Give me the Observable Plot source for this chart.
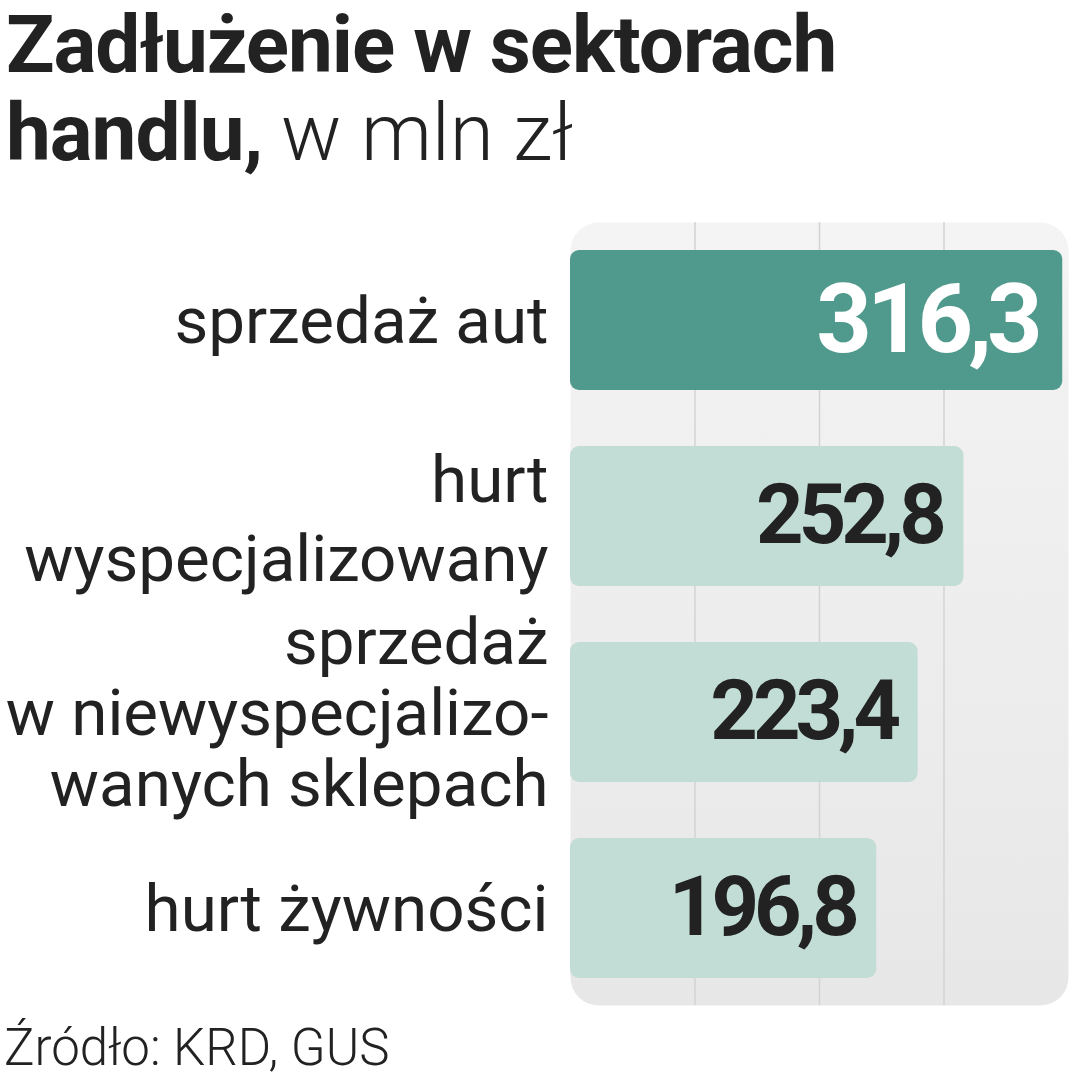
<!DOCTYPE html>
<html><head><meta charset="utf-8">
<script src="https://cdn.jsdelivr.net/npm/d3@7"></script>
<script src="https://cdn.jsdelivr.net/npm/@observablehq/plot@0.6"></script>
<style>
body{margin:0;background:#fff;width:1069px;height:1080px;position:relative;overflow:hidden;font-family:Roboto,"Noto Sans",sans-serif;color:#222}
#title{position:absolute;left:6px;top:1px;font-size:80px;line-height:88px;font-weight:700;letter-spacing:-1px;white-space:nowrap}
#title .light{font-weight:300;letter-spacing:0}
#chart{position:absolute;left:0;top:200px}
#caption{position:absolute;left:4px;top:1018px;font-size:51px;line-height:1.171;font-weight:300;white-space:nowrap}
</style></head><body>
<div id="title">Zadłużenie w sektorach<br>handlu, <span class="light">w mln zł</span></div>
<div id="chart"></div>
<div id="caption">Źródło: KRD, GUS</div>
<script>
const categories = ["sprzedaż aut", "hurt\nwyspecjalizowany", "sprzedaż\nw niewyspecjalizo-\nwanych sklepach", "hurt żywności"];
const values = [316.3, 252.8, 223.4, 196.8];
const gridTicks = [80, 160, 240];
const xDomain = [0, 320];

const data = categories.map((c, i) => ({category: c, value: values[i], idx: i}));
const fmt = v => v.toFixed(1).replace(".", ",");

const plot = Plot.plot({
  width: 1069, height: 810,
  marginLeft: 570, marginRight: 1, marginTop: 22, marginBottom: 5,
  x: {domain: xDomain, axis: null},
  y: {domain: categories, axis: null, paddingInner: 0.286, paddingOuter: 0.14},
  style: {fontFamily: "Roboto, 'Noto Sans', sans-serif", background: "transparent", overflow: "visible"},
  marks: [
    Plot.frame({fill: "url(#panelGrad)", stroke: "none", rx: 28}),
    Plot.ruleX(gridTicks, {stroke: "#d3d3d3", strokeWidth: 1.5}),
    Plot.barX(data, {filter: d => d.idx === 0, x: "value", y: "category", fill: "#4f9a8d", rx: 9}),
    Plot.barX(data, {filter: d => d.idx > 0, x: "value", y: "category", fill: "#c2ddd5", rx: 9}),
    Plot.text(data, {filter: d => d.idx === 0, x: "value", y: "category", text: d => fmt(d.value),
      fill: "#ffffff", fontSize: 97, fontWeight: 700, textAnchor: "end", dx: -25}),
    Plot.text(data, {filter: d => d.idx > 0, x: "value", y: "category", text: d => fmt(d.value),
      fill: "#222222", fontSize: 83, fontWeight: 700, textAnchor: "end", dx: -22}),
    Plot.text(data, {filter: d => d.idx !== 1, x: () => 0, y: "category", text: "category",
      fill: "#222222", fontSize: 65.5, fontWeight: 400, textAnchor: "end", dx: -22, lineHeight: 1.08}),
    Plot.text(data, {filter: d => d.idx === 1, x: () => 0, y: "category", text: "category",
      fill: "#222222", fontSize: 65.5, fontWeight: 400, textAnchor: "end", dx: -22, lineHeight: 1.2})
  ]
});

const svg = d3.select(plot);
const defs = svg.insert("defs", ":first-child");
const g = defs.append("linearGradient").attr("id", "panelGrad").attr("x1", 0).attr("y1", 0).attr("x2", 0).attr("y2", 1);
g.append("stop").attr("offset", "0%").attr("stop-color", "#f4f4f4");
g.append("stop").attr("offset", "100%").attr("stop-color", "#e7e7e7");
svg.selectAll("text").filter(function() { return /^\d+,\d$/.test(this.textContent); })
  .style("letter-spacing", "-5px");
document.getElementById("chart").appendChild(plot);
</script>
</body></html>
